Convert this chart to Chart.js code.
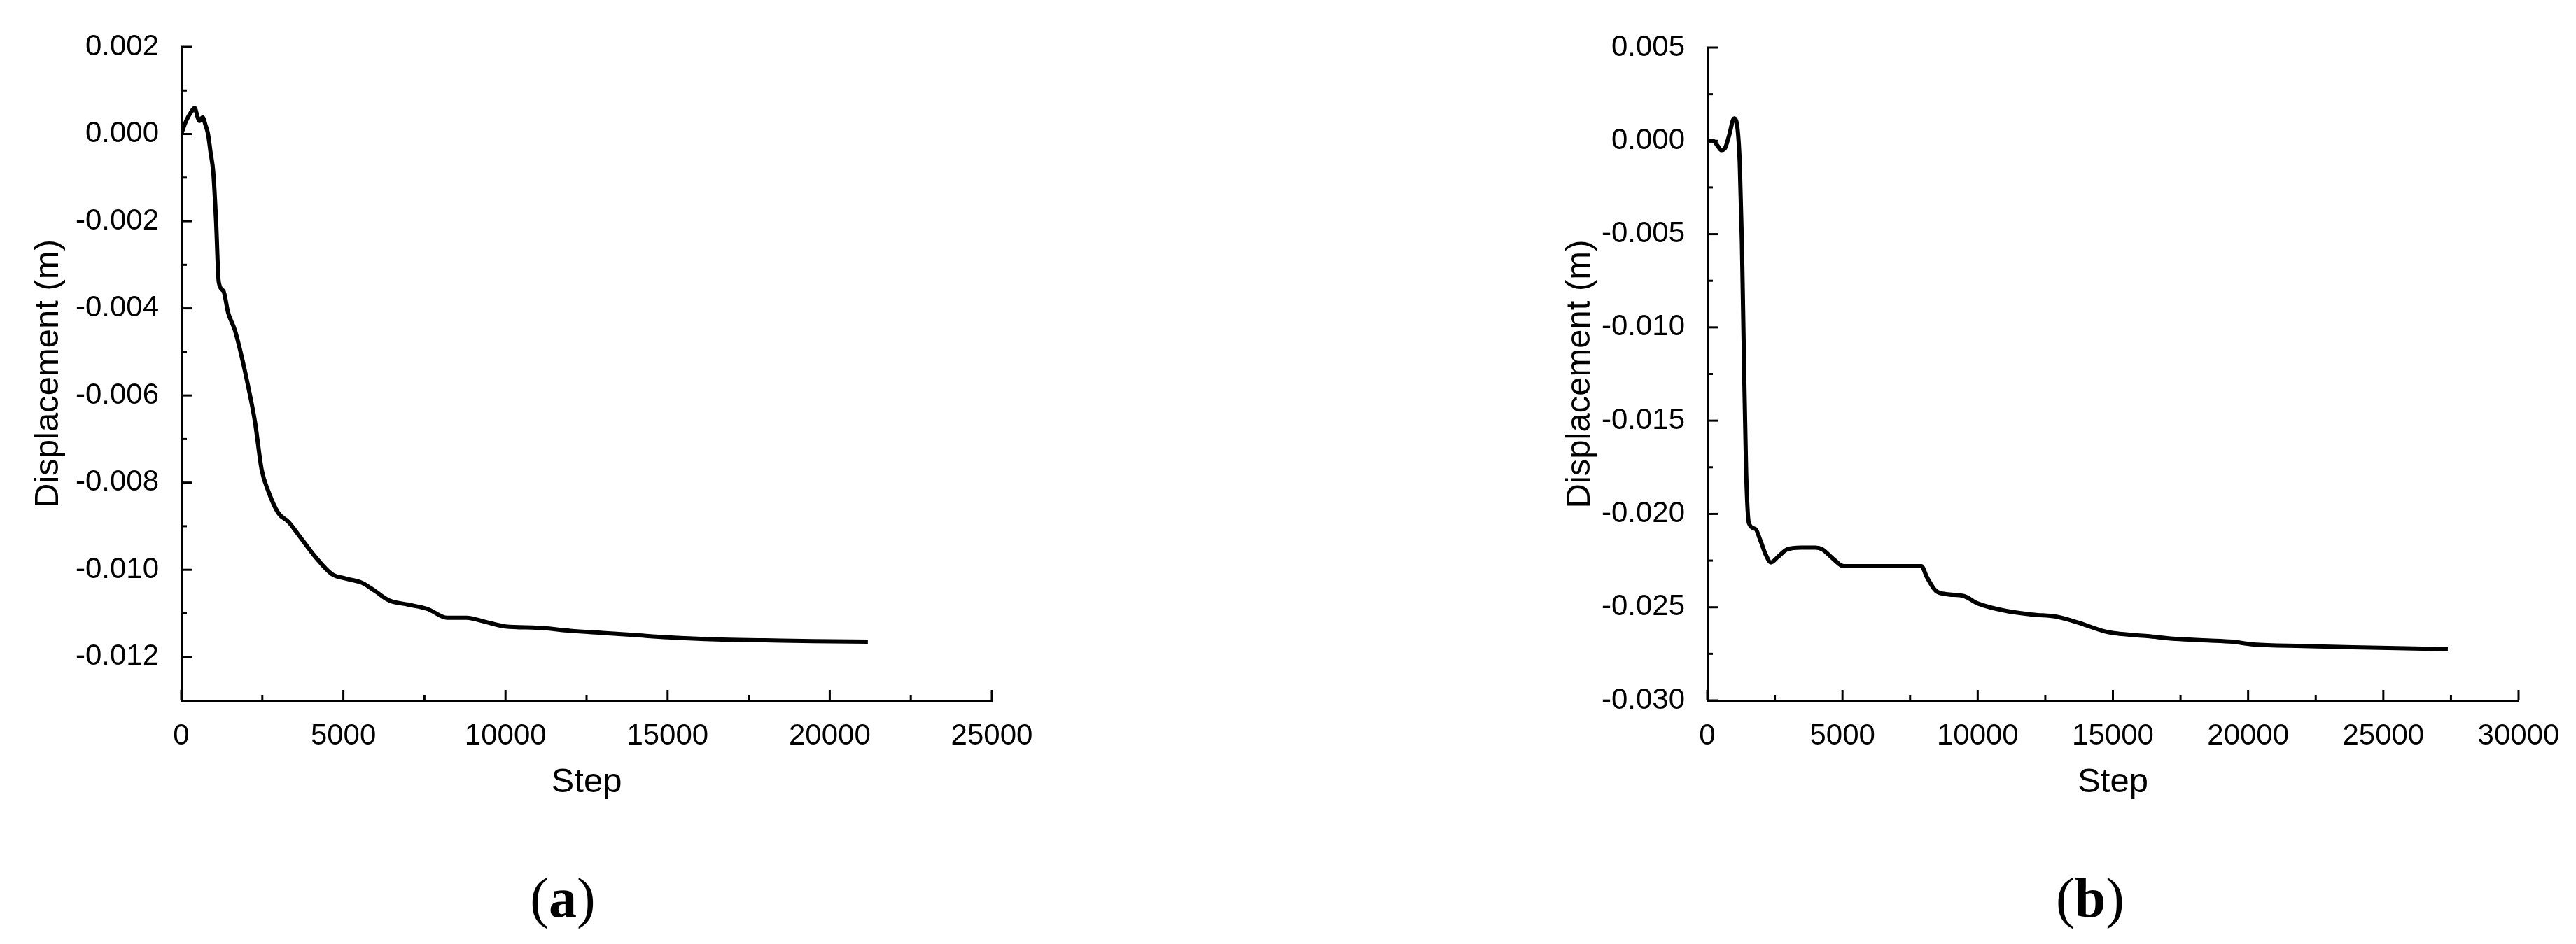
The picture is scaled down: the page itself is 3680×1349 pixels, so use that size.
<!DOCTYPE html>
<html>
<head>
<meta charset="utf-8">
<script src="https://cdn.jsdelivr.net/npm/chart.js@4/dist/chart.umd.min.js"></script>
<style>
  html, body { margin: 0; padding: 0; background: #fff; }
  body { width: 3680px; height: 1349px; position: relative; overflow: hidden; }
  canvas { position: absolute; top: 0; }
  #cA { left: 0; }
  #cB { left: 1840px; }
  .cap { position: absolute; transform: translate(-50%, -50%); font-family: 'Liberation Serif', 'Times New Roman', serif; font-size: 80px; color: #000; white-space: nowrap; line-height: 1; }
  .cap b { font-weight: bold; }
</style>
</head>
<body>
<canvas id="cA" width="1840" height="1349"></canvas>
<canvas id="cB" width="1840" height="1349"></canvas>
<div class="cap" style="left:804px; top:1283px;">(<b>a</b>)</div>
<div class="cap" style="left:2986px; top:1283px;">(<b>b</b>)</div>
<script>
// ---- Data: chart (a)
const stepsA = [0, 150, 300, 413, 500, 558, 660, 750, 826, 900, 990, 1074, 1157, 1300, 1446, 1653, 1860, 2066, 2273, 2479, 2686, 2996, 3306, 3719, 4132, 4649, 5062, 5578, 6000, 6400, 7000, 7600, 8200, 8800, 9400, 10000, 11000, 12000, 13000, 14000, 15000, 16500, 18000, 19500, 21176];
const dispA  = [0.0000, 0.0003, 0.0005, 0.0006, 0.0004, 0.0003, 0.00038, 0.0002, 0.0000, -0.0004, -0.0009, -0.0020, -0.0034, -0.0036, -0.0041, -0.0045, -0.0051, -0.0058, -0.0066, -0.0077, -0.0082, -0.0087, -0.0089, -0.0093, -0.0097, -0.0101, -0.0102, -0.0103, -0.0105, -0.0107, -0.0108, -0.0109, -0.0111, -0.0111, -0.0112, -0.0113, -0.01133, -0.0114, -0.01145, -0.0115, -0.01155, -0.0116, -0.01162, -0.01164, -0.01165];

// ---- Data: chart (b)
const stepsB = [0, 209, 400, 523, 653, 810, 993, 1124, 1202, 1280, 1359, 1437, 1542, 1777, 1960, 2169, 2352, 2613, 2953, 3475, 3998, 4259, 4651, 5043, 5827, 7917, 8127, 8440, 8832, 9485, 10008, 11053, 12098, 12882, 13666, 14711, 15103, 16279, 17324, 18500, 19414, 20198, 22028, 23857, 25500, 27384];
const dispB  = [0.0000, 0.0000, -0.0003, -0.0005, -0.0004, 0.0003, 0.0012, 0.0006, -0.0012, -0.0054, -0.0119, -0.0177, -0.0205, -0.0208, -0.0214, -0.0222, -0.0226, -0.0223, -0.0219, -0.0218, -0.0218, -0.0219, -0.0224, -0.0228, -0.0228, -0.0228, -0.0234, -0.0241, -0.0243, -0.0244, -0.0248, -0.0252, -0.0254, -0.0255, -0.0258, -0.0263, -0.0264, -0.02655, -0.0267, -0.02678, -0.02685, -0.0270, -0.02708, -0.02715, -0.0272, -0.02725];

// ---- Tick labels / tick marks
const xTicksA = [0, 5000, 10000, 15000, 20000, 25000];
const xMinorA = [2500, 7500, 12500, 17500, 22500];
const yTicksA = [-0.012, -0.010, -0.008, -0.006, -0.004, -0.002, 0.000, 0.002];
const yMinorA = [-0.011, -0.009, -0.007, -0.005, -0.003, -0.001, 0.001];
const xTicksB = [0, 5000, 10000, 15000, 20000, 25000, 30000];
const xMinorB = [2500, 7500, 12500, 17500, 22500, 27500];
const yTicksB = [-0.030, -0.025, -0.020, -0.015, -0.010, -0.005, 0.000, 0.005];
const yMinorB = [-0.0275, -0.0225, -0.0175, -0.0125, -0.0075, -0.0025, 0.0025];

const xTitle = 'Step';
const yTitle = 'Displacement (m)';

const innerTicks = {
  id: 'innerTicks',
  afterDraw(chart, args, o) {
    const { ctx, chartArea, scales } = chart;
    const xs = scales.x, ys = scales.y;
    ctx.save();
    ctx.strokeStyle = '#000';
    ctx.lineWidth = 3;
    const seg = (x1, y1, x2, y2) => { ctx.beginPath(); ctx.moveTo(x1, y1); ctx.lineTo(x2, y2); ctx.stroke(); };
    o.xMajor.forEach(v => { const p = xs.getPixelForValue(v); seg(p, chartArea.bottom, p, chartArea.bottom - 15); });
    o.xMinor.forEach(v => { const p = xs.getPixelForValue(v); seg(p, chartArea.bottom, p, chartArea.bottom - 8); });
    o.yMajor.forEach(v => { const p = ys.getPixelForValue(v); seg(chartArea.left, p, chartArea.left + 15, p); });
    o.yMinor.forEach(v => { const p = ys.getPixelForValue(v); seg(chartArea.left, p, chartArea.left + 8, p); });
    ctx.restore();
  }
};

const tickFont = { family: "'Liberation Sans', Arial, sans-serif", size: 42 };
const titleFont = { family: "'Liberation Sans', Arial, sans-serif", size: 49 };

function makeChart(id, steps, disp, cfg) {
  const data = steps.map((s, i) => ({ x: s, y: disp[i] }));
  return new Chart(document.getElementById(id), {
    type: 'line',
    data: { datasets: [{ data, borderColor: '#000', borderWidth: 6, pointRadius: 0, tension: 0.2, cubicInterpolationMode: 'monotone', fill: false, borderJoinStyle: 'round' }] },
    plugins: [innerTicks],
    options: {
      responsive: false,
      animation: false,
      events: [],
      layout: { padding: cfg.padding },
      plugins: {
        legend: { display: false },
        tooltip: { enabled: false },
        innerTicks: { xMajor: cfg.xTicks, xMinor: cfg.xMinor, yMajor: cfg.yTicks, yMinor: cfg.yMinor }
      },
      scales: {
        x: {
          type: 'linear',
          min: cfg.xMin, max: cfg.xMax,
          grid: { display: false },
          border: { display: true, color: '#000', width: 3 },
          afterBuildTicks: s => { s.ticks = cfg.xTicks.map(v => ({ value: v })); },
          afterFit: s => { s.height = 147; },
          ticks: { color: '#000', font: tickFont, padding: 18, maxRotation: 0, autoSkip: false, callback: v => String(v) },
          title: { display: true, text: xTitle, color: '#000', font: titleFont, padding: { top: 0, bottom: 0 } }
        },
        y: {
          type: 'linear',
          min: cfg.yMin, max: cfg.yMax,
          grid: { display: false },
          border: { display: true, color: '#000', width: 3 },
          afterBuildTicks: s => { s.ticks = cfg.yTicks.map(v => ({ value: v })); },
          afterFit: s => { s.width = cfg.yWidth; },
          ticks: { color: '#000', font: tickFont, padding: 24, autoSkip: false, callback: v => Number(v).toFixed(3) },
          title: { display: true, text: yTitle, color: '#000', font: titleFont, padding: { top: 40, bottom: 0 } }
        }
      }
    }
  });
}

makeChart('cA', stepsA, dispA, {
  xMin: 0, xMax: 25000, yMin: -0.013, yMax: 0.002,
  xTicks: xTicksA, xMinor: xMinorA, yTicks: yTicksA, yMinor: yMinorA,
  yWidth: 259,
  padding: { left: 0, top: 67, right: 423, bottom: 201 }
});
makeChart('cB', stepsB, dispB, {
  xMin: 0, xMax: 30000, yMin: -0.030, yMax: 0.005,
  xTicks: xTicksB, xMinor: xMinorB, yTicks: yTicksB, yMinor: yMinorB,
  yWidth: 251,
  padding: { left: 348, top: 68, right: 82, bottom: 201 }
});
</script>
</body>
</html>
